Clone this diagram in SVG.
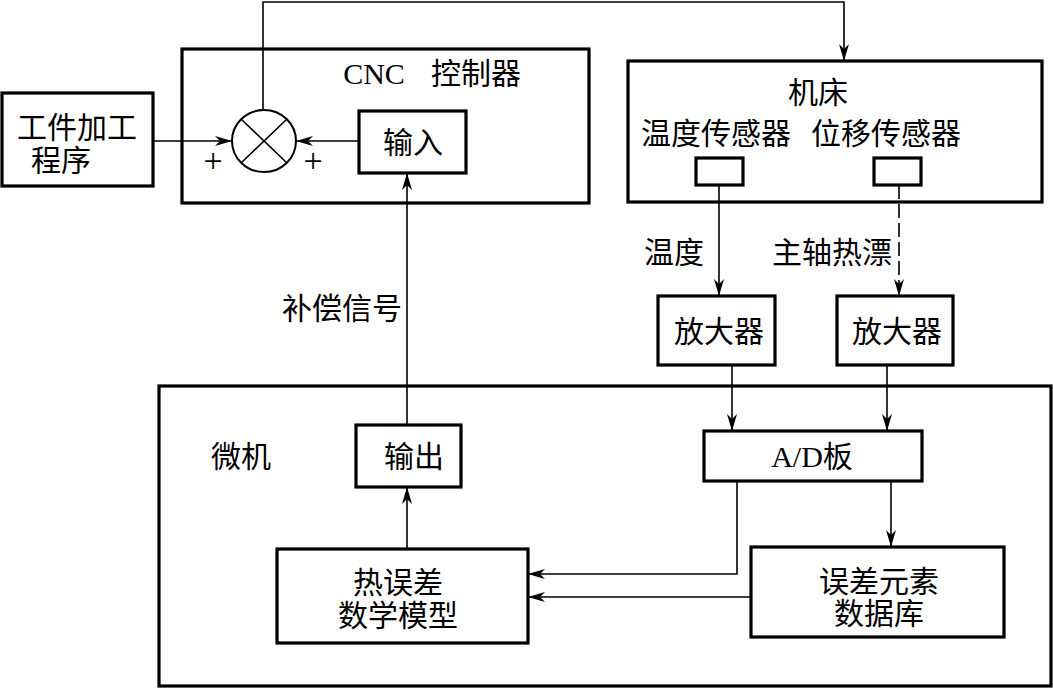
<svg xmlns="http://www.w3.org/2000/svg" width="1053" height="688" viewBox="0 0 1053 688">
<style>
.box{fill:none;stroke:#000;stroke-width:3.2}
.ln{fill:none;stroke:#000;stroke-width:1.6}
.dash{stroke-dasharray:14 5}
text{font-family:"Liberation Serif","Noto Sans CJK SC",serif;font-size:30px;fill:#000;text-anchor:middle}
</style>
<defs>
<marker id="ar" markerUnits="userSpaceOnUse" markerWidth="18" markerHeight="10" refX="17" refY="5" orient="auto">
<path d="M0,0 L17,5 L0,10 L5,5 z" fill="#000"/>
</marker>
</defs>
<rect width="1053" height="688" fill="#fff"/>
<g id="program">
<rect class="box" x="2" y="93" width="151" height="93"/>
<text x="77" y="138">工件加工</text>
<text x="61" y="171">程序</text>
</g>
<g id="cnc">
<rect class="box" x="182" y="49" width="407" height="154"/>
<text x="374" y="84">CNC</text>
<text x="476" y="84">控制器</text>
</g>
<g id="summer">
<ellipse cx="264" cy="141" rx="32" ry="31" fill="none" stroke="#000" stroke-width="2"/>
<path class="ln" d="M241,119 L287,163 M287,119 L241,163"/>
<text x="213" y="172" style="font-size:34px">+</text>
<text x="313" y="172" style="font-size:34px">+</text>
</g>
<g id="input">
<rect class="box" x="359" y="111" width="107" height="62"/>
<text x="413" y="153">输入</text>
</g>
<g id="machine">
<rect class="box" x="628" y="61" width="414" height="141"/>
<text x="818" y="103">机床</text>
<text x="716" y="144">温度传感器</text>
<text x="886" y="144">位移传感器</text>
</g>
<g id="sensor1"><rect class="box" x="696" y="158" width="47" height="27"/></g>
<g id="sensor2"><rect class="box" x="874" y="158" width="47" height="27"/></g>
<g id="amp1">
<rect class="box" x="658" y="296" width="117" height="69"/>
<text x="719" y="342">放大器</text>
</g>
<g id="amp2">
<rect class="box" x="837" y="296" width="116" height="69"/>
<text x="897" y="342">放大器</text>
</g>
<g id="micro">
<rect class="box" x="159" y="386" width="892" height="300"/>
<text x="241" y="467">微机</text>
</g>
<g id="output">
<rect class="box" x="356" y="425" width="105" height="62"/>
<text x="414" y="467">输出</text>
</g>
<g id="ad">
<rect class="box" x="704" y="431" width="218" height="50"/>
<text x="812" y="467">A/D板</text>
</g>
<g id="model">
<rect class="box" x="277" y="549" width="251" height="94"/>
<text x="398" y="593">热误差</text>
<text x="398" y="626">数学模型</text>
</g>
<g id="database">
<rect class="box" x="751" y="547" width="253" height="90"/>
<text x="879" y="592">误差元素</text>
<text x="879" y="624">数据库</text>
</g>
<g id="connectors">
<path class="ln" d="M153,141 L232,141" marker-end="url(#ar)"/>
<path class="ln" d="M359,141 L296,141" marker-end="url(#ar)"/>
<path class="ln" d="M263,110 L263,2 L844,2 L844,61" marker-end="url(#ar)"/>
<path class="ln" d="M407,425 L407,173" marker-end="url(#ar)"/>
<path class="ln" d="M407,549 L407,487" marker-end="url(#ar)"/>
<path class="ln" d="M719,185 L719,296" marker-end="url(#ar)"/>
<path class="ln dash" d="M899,185 L899,296" marker-end="url(#ar)"/>
<path class="ln" d="M732,365 L732,431" marker-end="url(#ar)"/>
<path class="ln" d="M887,365 L887,431" marker-end="url(#ar)"/>
<path class="ln" d="M737,481 L737,574 L528,574" stroke-width="2.2" marker-end="url(#ar)"/>
<path class="ln" d="M891,481 L891,547" marker-end="url(#ar)"/>
<path class="ln" d="M751,597 L528,597" marker-end="url(#ar)"/>
<text x="674" y="263">温度</text>
<text x="832" y="263">主轴热漂</text>
<text x="342" y="319">补偿信号</text>
</g>
</svg>
